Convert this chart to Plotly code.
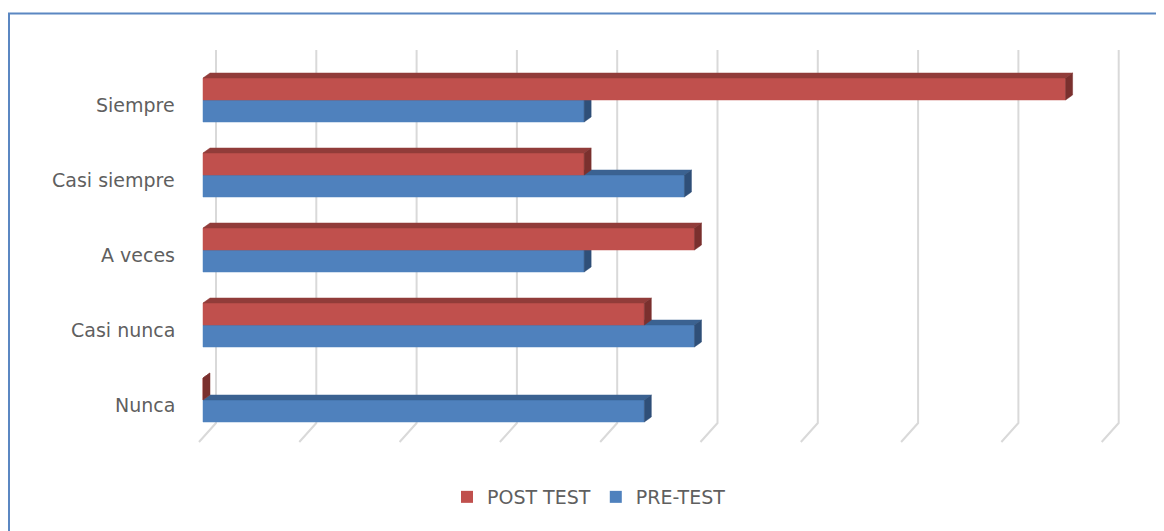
import plotly.graph_objects as go

# ---- data ----
categories = ["Siempre", "Casi siempre", "A veces", "Casi nunca", "Nunca"]
post_test = [86, 38, 49, 44, 0]
pre_test = [38, 48, 38, 49, 44]
grid_ticks = [0, 10, 20, 30, 40, 50, 60, 70, 80, 90]

# ---- layout geometry (pixels, page coords; the page body adds an 8 px margin) ----
OFF = 8
W, H = 1164 - OFF, 531 - OFF
X0PX, PXU = 203 - OFF, 10.03   # pixel of value 0 (front face), pixels per value unit
Y0PX, PYU = 400 - OFF, 75      # pixel of lowest category centre, pixels per category
BAR_H = 22 / PYU               # front face height
DX, DY = 7 / PXU, 5 / PYU      # 3D depth offset of bars
BACK_DX = 13 / PXU             # back wall offset
FLOOR_DX, FLOOR_DY = 17 / PXU, 19 / PYU
GRID_TOP = (Y0PX - (50 - OFF)) / PYU
GRID_BOT = (Y0PX - (423 - OFF)) / PYU

ypos = list(range(len(categories)))[::-1]


def faces(values, above):
    fx, fy, tx, ty, sx, sy = [], [], [], [], [], []
    for yc, v in zip(ypos, values):
        y0 = yc if above else yc - BAR_H
        y1 = y0 + BAR_H
        fx += [0, v, v, 0, 0, None]
        fy += [y0, y0, y1, y1, y0, None]
        tx += [0, v, v + DX, DX, 0, None]
        ty += [y1, y1, y1 + DY, y1 + DY, y1, None]
        sx += [v, v + DX, v + DX, v, v, None]
        sy += [y0, y0 + DY, y1 + DY, y1, y0, None]
    return (fx, fy), (tx, ty), (sx, sy)


fig = go.Figure()

# gridlines (back wall + floor slant)
gx, gy = [], []
for t in grid_ticks:
    bx = t + BACK_DX
    gx += [bx, bx, bx - FLOOR_DX, None]
    gy += [GRID_TOP, GRID_BOT, GRID_BOT - FLOOR_DY, None]
fig.add_trace(go.Scatter(x=gx, y=gy, mode="lines", line=dict(color="#d9d9d9", width=2),
                         hoverinfo="skip", showlegend=False))

series = [
    ("PRE-TEST", pre_test, False, ["#4F81BD", "#3B6291", "#2F4F78"]),
    ("POST TEST", post_test, True, ["#C0504D", "#913C3A", "#7A302E"]),
]
for name, vals, above, cols in series:
    for (xs, ys), col in zip(faces(vals, above), cols):
        fig.add_trace(go.Scatter(x=xs, y=ys, mode="lines", fill="toself", fillcolor=col,
                                 line=dict(color=col, width=0.5), hoverinfo="skip",
                                 showlegend=False))

# legend entries
for name, col in [("POST TEST", "#C0504D"), ("PRE-TEST", "#4F81BD")]:
    fig.add_trace(go.Scatter(x=[None], y=[None], mode="markers", name=name,
                             marker=dict(symbol="square", size=12, color=col)))

font = dict(family="DejaVu Sans", size=19, color="#5f5f5f")
for cat, yc in zip(categories, ypos):
    fig.add_annotation(x=(177 - OFF) / W, xref="paper", xanchor="right", y=yc, yref="y",
                       yshift=-5, text=cat, showarrow=False, font=font)

fig.add_shape(type="rect", xref="paper", yref="paper", x0=1 / W, x1=1.05,
              y0=-0.05, y1=1 - (13.5 - OFF) / H, line=dict(color="#5b87c2", width=2))

fig.update_layout(
    width=W, height=H, margin=dict(l=0, r=0, t=0, b=0),
    paper_bgcolor="white", plot_bgcolor="white",
    xaxis=dict(range=[-X0PX / PXU, (W - X0PX) / PXU], visible=False, fixedrange=True),
    yaxis=dict(range=[(Y0PX - H) / PYU, Y0PX / PYU], visible=False, fixedrange=True),
    showlegend=True,
    legend=dict(orientation="h", x=(589 - OFF) / W, xanchor="center", y=(H - (497 - OFF)) / H,
                yanchor="middle", font=font, bgcolor="rgba(0,0,0,0)"),
)

fig.write_html("out.html")
